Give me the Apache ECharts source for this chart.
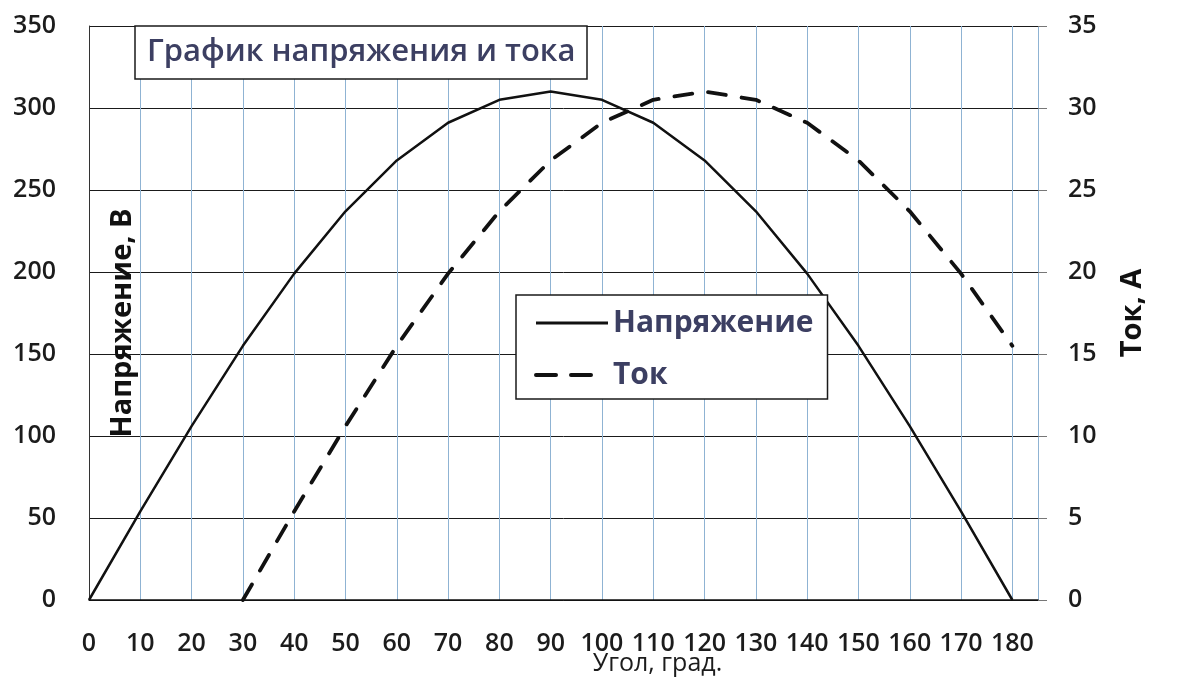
<!DOCTYPE html>
<html>
<head>
<meta charset="utf-8">
<script src="https://cdn.jsdelivr.net/npm/echarts@6/dist/echarts.min.js"></script>
<style>
  html, body { margin: 0; padding: 0; background: #fff; }
  #chart { width: 1179px; height: 682px; }
</style>
</head>
<body>
<div id="chart"></div>
<script>
// angle, degrees
var angles = [0, 10, 20, 30, 40, 50, 60, 70, 80, 90, 100, 110, 120, 130, 140, 150, 160, 170, 180];
// voltage, V
var voltage = [0, 54, 106, 155, 199, 237, 268, 291, 305, 310, 305, 291, 268, 237, 199, 155, 106, 54, 0];
// current starts at 30 deg
var currentAngles = [30, 40, 50, 60, 70, 80, 90, 100, 110, 120, 130, 140, 150, 160, 170, 180];
var current = [0, 5.4, 10.6, 15.5, 19.9, 23.7, 26.8, 29.1, 30.5, 31, 30.5, 29.1, 26.8, 23.7, 19.9, 15.5];

var titleText = 'График напряжения и тока';
var seriesNames = ['Напряжение', 'Ток'];

function pairs(xs, ys) {
    return xs.map(function (x, i) { return [x, ys[i]]; });
}

var chart = echarts.init(document.getElementById('chart'), null, {renderer: 'canvas'});

var numFont = {fontFamily: 'Open Sans', fontSize: 25, fontWeight: 600, color: '#1c1c1c'};

chart.setOption({
    backgroundColor: '#fff',
    animation: false,
    title: {
        text: titleText,
        left: 135,
        top: 26,
        padding: [11, 12, 11, 12],
        borderColor: '#1a1a1a',
        borderWidth: 1.5,
        backgroundColor: '#fff',
        textStyle: {fontFamily: 'Open Sans', fontSize: 31, fontWeight: 600, color: '#3c3f62'}
    },
    legend: {
        orient: 'vertical',
        left: 516,
        top: 295,
        padding: [13, 14, 9, 18],
        itemWidth: 72,
        itemHeight: 14,
        itemGap: 22,
        borderColor: '#1a1a1a',
        borderWidth: 1.5,
        backgroundColor: '#fff',
        textStyle: {fontFamily: 'Open Sans', fontSize: 30, fontWeight: 'bold', color: '#3c3f62'},
        data: [
            {name: seriesNames[0], itemStyle: {opacity: 0}, lineStyle: {width: 3, color: '#111', type: 'solid'}},
            {name: seriesNames[1], itemStyle: {opacity: 0}, lineStyle: {width: 4, color: '#111', type: [20, 15, 20, 40]}}
        ]
    },
    grid: {left: 89, right: 141, top: 26, bottom: 82, containLabel: false, outerBoundsMode: 'none'},
    xAxis: {
        type: 'value',
        min: 0,
        max: 185,
        interval: 10,
        name: 'Угол, град.',
        nameLocation: 'middle',
        nameGap: 51,
        nameMoveOverlap: false,
        nameTextStyle: {fontFamily: 'Open Sans', fontSize: 25, color: '#1c1c1c', padding: [0, 0, 0, 188]},
        axisLine: {show: true, onZero: false, lineStyle: {color: '#111', width: 1.5}},
        axisTick: {show: false},
        axisLabel: Object.assign({
            margin: 31,
            formatter: function (v) { return v <= 180 ? String(v) : ''; }
        }, numFont),
        splitLine: {show: true, lineStyle: {color: '#8fb3d3', width: 1}}
    },
    yAxis: [
        {
            type: 'value',
            min: 0,
            max: 350,
            interval: 50,
            position: 'left',
            name: 'Напряжение, В',
            nameLocation: 'middle',
            nameGap: -48,
            nameMoveOverlap: false,
            nameTextStyle: {fontFamily: 'Open Sans', fontSize: 29, fontWeight: 'bold', color: '#111', padding: [0, 20, 0, 0]},
            axisLine: {show: true, lineStyle: {color: '#333', width: 1}},
            axisTick: {show: false},
            axisLabel: Object.assign({margin: 33}, numFont),
            splitLine: {show: true, lineStyle: {color: '#1a1a1a', width: 1}}
        },
        {
            type: 'value',
            min: 0,
            max: 35,
            interval: 5,
            position: 'right',
            name: 'Ток, А',
            nameLocation: 'middle',
            nameGap: 80,
            nameMoveOverlap: false,
            nameTextStyle: {fontFamily: 'Open Sans', fontSize: 29, fontWeight: 'bold', color: '#111'},
            axisLine: {show: false},
            axisTick: {show: true, length: 9, lineStyle: {color: '#777', width: 1}},
            axisLabel: Object.assign({margin: 30}, numFont),
            splitLine: {show: false}
        }
    ],
    series: [
        {
            name: seriesNames[0],
            type: 'line',
            yAxisIndex: 0,
            symbol: 'none',
            itemStyle: {color: '#111'},
            data: pairs(angles, voltage),
            lineStyle: {color: '#111', width: 2.5}
        },
        {
            name: seriesNames[1],
            type: 'line',
            yAxisIndex: 1,
            symbol: 'none',
            itemStyle: {color: '#111'},
            data: pairs(currentAngles, current),
            lineStyle: {color: '#111', width: 3.8, type: [18, 16], cap: 'round'}
        }
    ]
});
</script>
</body>
</html>
